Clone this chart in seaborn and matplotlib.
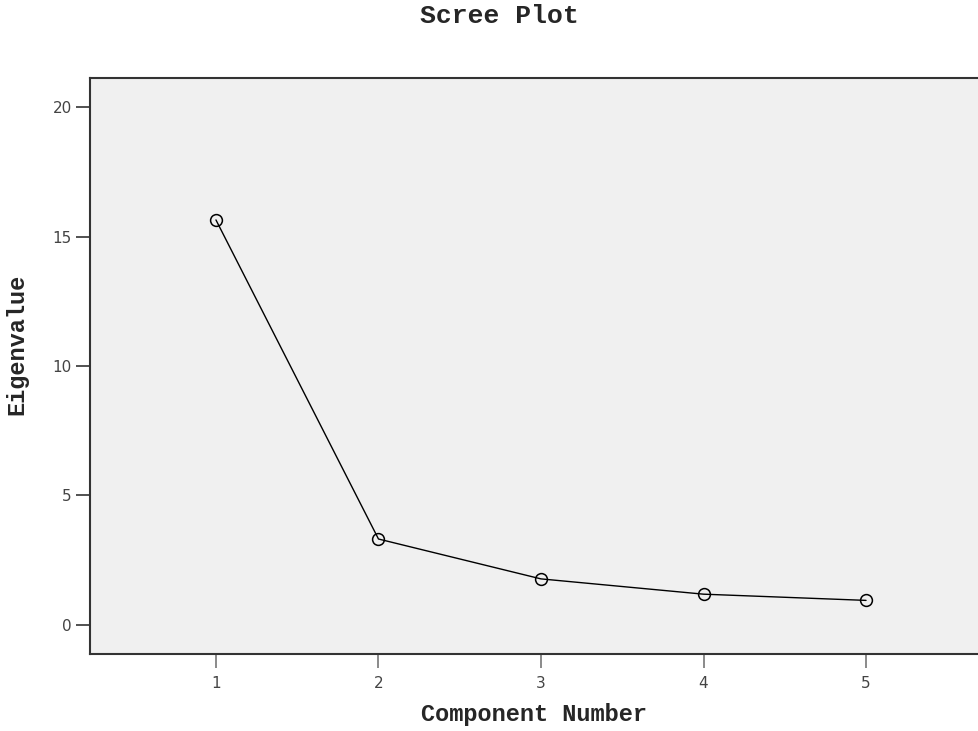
import matplotlib
matplotlib.use("Agg")
import matplotlib.pyplot as plt
import seaborn as sns
import pandas as pd

# Scree plot data: eigenvalue for each extracted component
components = [1, 2, 3, 4, 5]
eigenvalues = [15.64, 3.32, 1.78, 1.19, 0.95]

x_ticks = [1, 2, 3, 4, 5]
y_ticks = [0, 5, 10, 15, 20]

df = pd.DataFrame({"Component Number": components, "Eigenvalue": eigenvalues})

sns.set_theme(style="white")
plt.rcParams["font.family"] = ["DejaVu Sans"]

fig = plt.figure(figsize=(9.79, 7.31), dpi=100)
ax = fig.add_axes([90 / 979, 77 / 731, 1 - 90 / 979, (654 - 78) / 731])
ax.set_facecolor("#f0f0f0")

sns.lineplot(
    data=df, x="Component Number", y="Eigenvalue", ax=ax,
    color="black", linewidth=1.0, marker="o", markersize=8.5,
    markerfacecolor="none", markeredgecolor="black", markeredgewidth=1.1,
)

ax.set_xlim(0.225, 5.695)
ax.set_ylim(-1.12, 21.12)
ax.set_xticks(x_ticks)
ax.set_yticks(y_ticks)

for side in ["left", "bottom", "top"]:
    ax.spines[side].set_color("#333333")
    ax.spines[side].set_linewidth(1.5)
ax.spines["right"].set_visible(False)

ax.tick_params(axis="y", direction="out", length=10, width=1.2, color="#333333",
               labelsize=11, labelcolor="#444444", pad=3, left=True)
ax.tick_params(axis="x", direction="out", length=10, width=1.2, color="#777777",
               labelsize=11, labelcolor="#444444", pad=6, bottom=True)

mono = {"family": "Liberation Mono", "weight": "bold"}
ax.set_xlabel("Component Number", fontdict=mono, fontsize=17)
ax.set_ylabel("Eigenvalue", fontdict=mono, fontsize=17)
ax.xaxis.label.set_verticalalignment("center")
ax.yaxis.label.set_verticalalignment("center")
ax.yaxis.label.set_horizontalalignment("center")
ax.xaxis.set_label_coords(0.5, -61 / 576, transform=ax.transAxes)
ax.yaxis.set_label_coords(-73 / 889, (654 - 344) / 576, transform=ax.transAxes)
fig.text(499 / 979, 1 - 16 / 731, "Scree Plot",
         ha="center", va="center", fontsize=19, **mono)

fig.savefig("out.png", dpi=100)
